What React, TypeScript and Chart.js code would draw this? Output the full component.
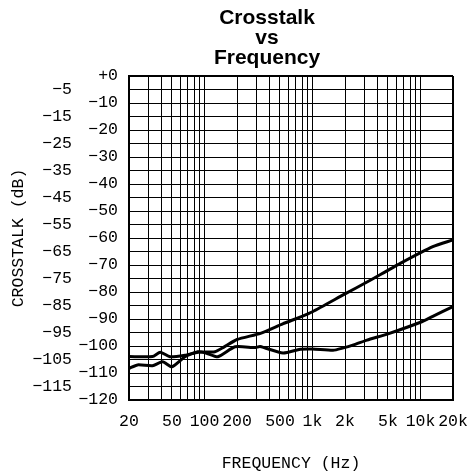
import React, { useEffect, useRef } from "react";
import { Chart, registerables } from "chart.js";

Chart.register(...registerables);

const TITLE_LINES = ["Crosstalk", "vs", "Frequency"];
const X_TITLE = "FREQUENCY (Hz)";
const Y_TITLE = "CROSSTALK (dB)";

const FREQ_A = [20, 33, 39, 48, 66, 87, 125, 150, 200, 330, 530, 800, 1000, 2000, 3200, 6500, 13000, 20000];
const CROSSTALK_A = [-103.9, -103.9, -102.3, -104.0, -103.4, -102.3, -102.1, -100.5, -97.6, -95.3, -91.8, -89.0, -87.3, -80.7, -76.3, -69.4, -63.2, -60.7];

const FREQ_B = [20, 24, 33, 41, 50, 66, 87, 103, 133, 192, 294, 327, 533, 770, 1000, 1550, 1900, 2400, 3200, 5000, 10000, 13000, 20000];
const CROSSTALK_B = [-108.3, -107.0, -107.3, -105.8, -107.7, -104.0, -102.1, -102.6, -104.0, -100.3, -100.6, -100.2, -102.6, -101.2, -101.1, -101.6, -100.8, -99.6, -97.8, -95.5, -91.2, -89.0, -85.4];

const X_GRID = [20, 30, 40, 50, 60, 70, 80, 90, 100, 200, 300, 400, 500, 600, 700, 800, 900, 1000, 2000, 3000, 4000, 5000, 6000, 7000, 8000, 9000, 10000, 20000];
const X_LABEL_VALUES = [20, 50, 100, 200, 500, 1000, 2000, 5000, 10000, 20000];
const X_LABELS = ["20", "50", "100", "200", "500", "1k", "2k", "5k", "10k", "20k"];

const Y_MIN = -120;
const Y_MAX = 0;
const Y_STEP = 5;

const MONO = '"Liberation Mono", "DejaVu Sans Mono", monospace';
const FONT_SIZE = 16.5;

function yLabel(v: number): string {
  if (v === 0) return "+0";
  return "\u2212" + Math.abs(v);
}

const titlePlugin = {
  id: "stackedTitle",
  afterDraw(chart: any) {
    const ctx = chart.ctx;
    ctx.save();
    ctx.fillStyle = "#000";
    ctx.font = 'bold 21px "Liberation Sans", Arial, sans-serif';
    ctx.textAlign = "center";
    ctx.textBaseline = "alphabetic";
    const cx = 267;
    TITLE_LINES.forEach((t, i) => {
      ctx.fillText(t, cx, 23.5 + i * 20.3);
    });
    ctx.restore();
  },
};

export default function App() {
  const ref = useRef<HTMLCanvasElement | null>(null);
  useEffect(() => {
    if (!ref.current) return;
    const chart = new Chart(ref.current, {
      type: "line",
      data: {
        datasets: [
          {
            label: "A",
            data: FREQ_A.map((f, i) => ({ x: f, y: CROSSTALK_A[i] })),
            borderColor: "#000",
            borderWidth: 3,
            pointRadius: 0,
            tension: 0.2,
            fill: false,
          },
          {
            label: "B",
            data: FREQ_B.map((f, i) => ({ x: f, y: CROSSTALK_B[i] })),
            borderColor: "#000",
            borderWidth: 3,
            pointRadius: 0,
            tension: 0.2,
            fill: false,
          },
        ],
      },
      options: {
        animation: false,
        responsive: true,
        maintainAspectRatio: false,
        layout: { padding: { top: 76, right: 18, bottom: 0, left: 0 } },
        plugins: {
          legend: { display: false },
          tooltip: { enabled: false },
          title: { display: false },
        },
        scales: {
          x: {
            type: "logarithmic",
            min: 20,
            max: 20000,
            afterBuildTicks: (scale: any) => {
              scale.ticks = X_GRID.map((v) => ({ value: v }));
            },
            afterFit: (scale: any) => {
              scale.height = 72;
              scale.paddingLeft = 0;
              scale.paddingRight = 0;
            },
            grid: {
              color: "#000",
              lineWidth: (c: any) => (c.tick && (c.tick.value === 20 || c.tick.value === 20000) ? 2 : 1),
              drawTicks: false,
            },
            border: { display: true, color: "#000", width: 2 },
            ticks: {
              autoSkip: false,
              maxRotation: 0,
              minRotation: 0,
              padding: 12,
              color: "#000",
              font: { family: MONO, size: FONT_SIZE, lineHeight: 1.2 },
              callback: (v: any) => {
                const idx = X_LABEL_VALUES.indexOf(Number(v));
                return idx >= 0 ? X_LABELS[idx] : "";
              },
            },
            title: {
              display: true,
              text: X_TITLE,
              color: "#000",
              font: { family: MONO, size: FONT_SIZE, lineHeight: 1 },
              padding: { top: 0, bottom: 0 },
            },
          },
          y: {
            type: "linear",
            position: "left",
            weight: 0,
            min: Y_MIN,
            max: Y_MAX,
            afterFit: (scale: any) => {
              scale.width = 50;
            },
            grid: {
              color: "#000",
              lineWidth: (c: any) => (c.tick && (c.tick.value === Y_MIN || c.tick.value === Y_MAX) ? 2 : 1),
              drawTicks: false,
            },
            border: { display: true, color: "#000", width: 2 },
            ticks: {
              stepSize: Y_STEP,
              padding: 11,
              color: "#000",
              autoSkip: false,
              font: { family: MONO, size: FONT_SIZE, lineHeight: 1.2 },
              callback: (v: any) => (Number(v) % 10 === 0 ? yLabel(Number(v)) : ""),
            },
          },
          y2: {
            type: "linear",
            position: "left",
            weight: 1,
            min: Y_MIN,
            max: Y_MAX,
            afterFit: (scale: any) => {
              scale.width = 79;
            },
            grid: { display: false, drawTicks: false },
            border: { display: false },
            ticks: {
              stepSize: Y_STEP,
              padding: 7,
              color: "#000",
              autoSkip: false,
              font: { family: MONO, size: FONT_SIZE, lineHeight: 1.2 },
              callback: (v: any) => (Number(v) % 10 !== 0 ? yLabel(Number(v)) : ""),
            },
            title: {
              display: true,
              text: Y_TITLE,
              color: "#000",
              font: { family: MONO, size: FONT_SIZE, lineHeight: 1 },
              padding: { top: 10, bottom: 0 },
            },
          },
        },
      },
      plugins: [titlePlugin],
    } as any);
    return () => chart.destroy();
  }, []);

  return (
    <div style={{ position: "fixed", left: 0, top: 0, width: 471, height: 472, background: "#fff" }}>
      <canvas ref={ref} />
    </div>
  );
}
